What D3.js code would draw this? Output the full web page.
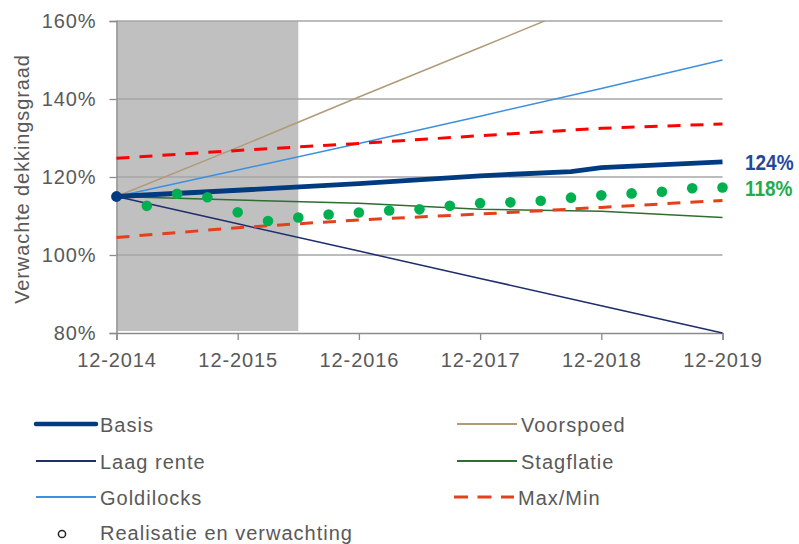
<!DOCTYPE html>
<html>
<head>
<meta charset="utf-8">
<script src="https://cdn.jsdelivr.net/npm/d3@7"></script>
<style>
  html, body { margin: 0; padding: 0; background: #ffffff; }
  svg { display: block; }
  text { font-family: "Liberation Sans", Arial, sans-serif; }
</style>
</head>
<body>
<svg id="chart" width="799" height="544"></svg>
<script>
// ---------- data ----------
const xTickYears = [0, 1, 2, 3, 4, 5];               // years after 12-2014
const xTickLabels = ["12-2014", "12-2015", "12-2016", "12-2017", "12-2018", "12-2019"];
const yTicks = [80, 100, 120, 140, 160];
const yTickLabels = ["80%", "100%", "120%", "140%", "160%"];
const shadeYears = [0, 1.5];

const scenarioYears = [0, 1, 2, 3, 4, 5];
const voorspoed  = [115.0, 127.6, 140.5, 153.2, 166.0, 178.6];
const laagRente  = [115.0, 108.0, 101.0, 94.0, 87.0, 80.0];
const goldilocks = [115.0, 121.8, 128.6, 135.6, 142.7, 150.0];
const stagflatie = [115.0, 114.1, 113.3, 111.7, 111.2, 109.6];
const maxBand    = [124.8, 126.8, 128.6, 130.6, 132.5, 133.6];
const minBand    = [104.5, 107.0, 109.0, 110.5, 112.2, 114.0];

const basisYears = [0, 1, 2, 3, 3.75, 4, 5];
const basis      = [115.0, 116.6, 118.3, 120.3, 121.4, 122.4, 123.9];

const realYears = [0.25, 0.5, 0.75, 1, 1.25, 1.5, 1.75, 2, 2.25, 2.5, 2.75, 3, 3.25, 3.5, 3.75, 4, 4.25, 4.5, 4.75, 5];
const realisatie = [112.6, 115.7, 114.8, 110.95, 108.7, 109.6, 110.4, 110.9, 111.4, 111.7,
                    112.6, 113.3, 113.5, 113.9, 114.7, 115.3, 115.8, 116.2, 117.1, 117.3];

const endLabels = ["124%", "118%"];
const legendNames = ["Basis", "Laag rente", "Goldilocks", "Realisatie en verwachting", "Voorspoed", "Stagflatie", "Max/Min"];

// ---------- layout ----------
const svg = d3.select("#chart");
const X0 = 116.5, X1 = 722.5, Y0 = 333, Y1 = 21;
const x = d3.scaleLinear().domain([0, 5]).range([X0, X1]);
const y = d3.scaleLinear().domain([80, 160]).range([Y0, Y1]);
const textColor = "#595959";

svg.append("defs").append("clipPath").attr("id", "plotClip")
  .append("rect").attr("x", X0 - 6).attr("y", Y1).attr("width", X1 - X0 + 12).attr("height", Y0 - Y1 + 1);

// shaded realised period
svg.append("rect")
  .attr("x", x(shadeYears[0]) + 1).attr("y", y(160))
  .attr("width", x(shadeYears[1]) - x(shadeYears[0]) - 1)
  .attr("height", y(80) - y(160) - 2)
  .attr("fill", "#c0c0c0");

// gridlines
svg.append("g").selectAll("line").data(yTicks.filter(d => d !== 80)).join("line")
  .attr("x1", X0).attr("x2", X1)
  .attr("y1", d => y(d)).attr("y2", d => y(d))
  .attr("stroke", "#a6a6a6").attr("stroke-width", 1.3);

// y axis
const yAxis = d3.axisLeft(y).tickValues(yTicks).tickSize(7).tickPadding(13)
  .tickFormat((d, i) => yTickLabels[i]);
const gy = svg.append("g").attr("transform", `translate(${X0},0)`).call(yAxis);
gy.select(".domain").attr("stroke", "#8c8c8c").attr("stroke-width", 1.5);
gy.selectAll(".tick line").attr("stroke", "#8c8c8c").attr("stroke-width", 1.3);
gy.selectAll(".tick text").attr("fill", textColor).style("font-size", "20px").style("letter-spacing", "0.9px");

// x axis
const xAxis = d3.axisBottom(x).tickValues(xTickYears).tickSize(7).tickPadding(12.5)
  .tickFormat((d, i) => xTickLabels[i]);
const gx = svg.append("g").attr("transform", `translate(0,${Y0})`).call(xAxis);
gx.select(".domain").attr("stroke", "#8c8c8c").attr("stroke-width", 1.5);
gx.selectAll(".tick line").attr("stroke", "#8c8c8c").attr("stroke-width", 1.3);
gx.selectAll(".tick text").attr("fill", textColor).style("font-size", "20px").style("letter-spacing", "0.9px");

// y title
svg.append("text")
  .attr("transform", `translate(29,${(Y0 + Y1) / 2 + 2}) rotate(-90)`)
  .attr("text-anchor", "middle")
  .attr("fill", textColor).style("font-size", "20px").style("letter-spacing", "0.9px")
  .text("Verwachte dekkingsgraad");

// ---------- series ----------
const plot = svg.append("g").attr("clip-path", "url(#plotClip)");
const line = d3.line().x(d => x(d[0])).y(d => y(d[1]));
const zipS = vals => scenarioYears.map((t, i) => [t, vals[i]]);

const scen = [
  { v: voorspoed,  color: "#b09b79", w: 1.5, dash: null },
  { v: goldilocks, color: "#3d8fe0", w: 1.5, dash: null },
  { v: laagRente,  color: "#1f2e6b", w: 1.5, dash: null },
  { v: stagflatie, color: "#2e6e32", w: 1.5, dash: null },
  { v: maxBand,    color: "#ff0000", w: 3,   dash: "13,10" },
  { v: minBand,    color: "#e5401c", w: 3,   dash: "13,10" }
];
scen.forEach(s => {
  plot.append("path").datum(zipS(s.v)).attr("d", line)
    .attr("fill", "none").attr("stroke", s.color).attr("stroke-width", s.w)
    .attr("stroke-dasharray", s.dash);
});

plot.append("path").datum(basisYears.map((t, i) => [t, basis[i]])).attr("d", line)
  .attr("fill", "none").attr("stroke", "#003a80").attr("stroke-width", 4.8)
  .attr("stroke-linejoin", "round");

svg.append("g").selectAll("circle").data(realYears.map((t, i) => [t, realisatie[i]])).join("circle")
  .attr("cx", d => x(d[0])).attr("cy", d => y(d[1])).attr("r", 5.3).attr("fill", "#00b050");

svg.append("circle").attr("cx", x(basisYears[0])).attr("cy", y(basis[0])).attr("r", 5.4).attr("fill", "#003a80");

// end labels (narrow bold look via horizontal scaling)
[[basis[basis.length - 1], endLabels[0], "#1f4a9a"],
 [realisatie[realisatie.length - 1], endLabels[1], "#22ad4b"]].forEach(([v, label, c]) => {
  svg.append("text")
    .attr("transform", `translate(745,${y(v)}) scale(0.95,1.12)`)
    .attr("dy", "0.36em")
    .attr("fill", c).style("font-size", "20px").style("font-weight", "bold")
    .text(label);
});

// ---------- legend ----------
const leg = svg.append("g");
const legItems = [
  { name: legendNames[0], lx: 36,  y: 424, color: "#003a80", w: 4.5, dash: null },
  { name: legendNames[1], lx: 36,  y: 461, color: "#1f2e6b", w: 1.8, dash: null },
  { name: legendNames[2], lx: 36,  y: 497, color: "#3d8fe0", w: 1.8, dash: null },
  { name: legendNames[4], lx: 457, y: 424, color: "#b09b79", w: 1.8, dash: null },
  { name: legendNames[5], lx: 457, y: 461, color: "#2e6e32", w: 1.8, dash: null },
  { name: legendNames[6], lx: 454, y: 497, color: "#e5401c", w: 3,   dash: "14,9.5" }
];
legItems.forEach(it => {
  leg.append("line").attr("x1", it.lx).attr("x2", it.lx + 60)
    .attr("y1", it.y).attr("y2", it.y)
    .attr("stroke", it.color).attr("stroke-width", it.w).attr("stroke-dasharray", it.dash)
    .attr("stroke-linecap", it.w > 4 ? "round" : "butt");
  leg.append("text").attr("x", it.lx + 64).attr("y", it.y + 7.5)
    .attr("fill", textColor).style("font-size", "20px").style("letter-spacing", "1px")
    .text(it.name);
});
leg.append("circle").attr("cx", 62).attr("cy", 534).attr("r", 3.6)
  .attr("fill", "#fff").attr("stroke", "#222").attr("stroke-width", 1.5);
leg.append("text").attr("x", 100).attr("y", 539.5)
  .attr("fill", textColor).style("font-size", "20px").style("letter-spacing", "1px")
  .text(legendNames[3]);
</script>
</body>
</html>
